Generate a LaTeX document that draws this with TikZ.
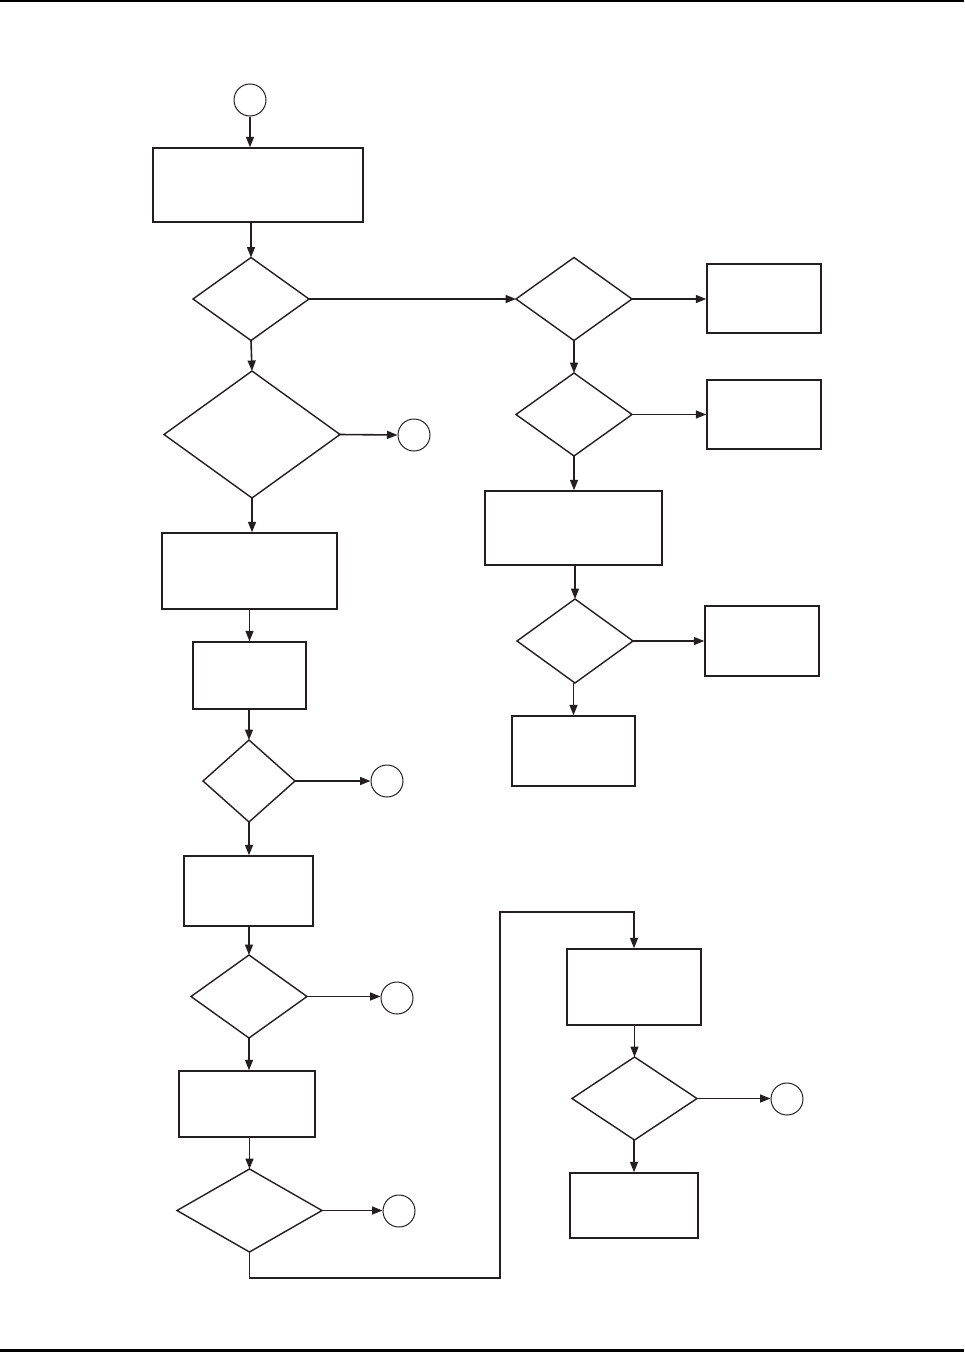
\documentclass[tikz,border=0pt]{standalone}
\usetikzlibrary{positioning,arrows.meta,shapes.geometric}
\definecolor{ink}{RGB}{35,31,32}
\tikzset{
  proc/.style ={draw=ink, line width=1.4pt, rectangle, inner sep=0pt},
  dec/.style  ={draw=ink, line width=1.4pt, diamond, inner sep=0pt, outer sep=0pt},
  conn/.style ={draw=ink, line width=1pt, circle, inner sep=0pt, minimum size=32pt},
  ar/.style   ={-{Triangle[length=10.5pt,width=8pt]}, draw=ink, line width=1.6pt},
  rule/.style ={fill=black},
}

\begin{document}
\begin{tikzpicture}[x=1pt,y=-1pt]
\useasboundingbox (0,0) rectangle (964,1352);
% page rules
\fill[rule] (0,0) rectangle (964,2.3);
\fill[rule] (0,1349.3) rectangle (964,1351.7);

% left column
\node[conn] (start) at (250,100) {};
\node[proc, minimum width=210pt, minimum height=74pt] (init) at (258,185) {};
\node[dec, minimum width=116pt, minimum height=83pt] (decA) at (251,299) {};
\node[dec, minimum width=176pt, minimum height=127pt] (decE) at (252,434.5) {};
\node[conn] (offE) at (414,435) {};
\node[proc, minimum width=175pt, minimum height=76pt] (boxE) at (249.5,571) {};
\node[proc, minimum width=113pt, minimum height=67pt] (boxF) at (249.5,675.5) {};
\node[dec, minimum width=92pt, minimum height=82pt] (decF) at (249,781) {};
\node[conn] (offF) at (387,781) {};
\node[proc, minimum width=129pt, minimum height=70pt] (boxG) at (248.5,891) {};
\node[dec, minimum width=116pt, minimum height=83pt] (decG) at (249,996.5) {};
\node[conn] (offG) at (397,998) {};
\node[proc, minimum width=136pt, minimum height=66pt] (boxH) at (247,1104) {};
\node[dec, minimum width=145pt, minimum height=83pt] (decH) at (249.5,1210.5) {};
\node[conn] (offH) at (399,1211) {};

% right column
\node[dec, minimum width=116pt, minimum height=83pt] (decB) at (574,299) {};
\node[proc, minimum width=114pt, minimum height=69pt] (outB) at (764,298.5) {};
\node[dec, minimum width=116pt, minimum height=83pt] (decC) at (574,414.5) {};
\node[proc, minimum width=114pt, minimum height=69pt] (outC) at (764,414.5) {};
\node[proc, minimum width=177pt, minimum height=74pt] (boxC) at (573.5,528) {};
\node[dec, minimum width=116pt, minimum height=84pt] (decD) at (575,641) {};
\node[proc, minimum width=114pt, minimum height=70pt] (outD) at (762,641) {};
\node[proc, minimum width=123pt, minimum height=70pt] (boxD) at (573.5,751) {};
\node[proc, minimum width=134pt, minimum height=76pt] (boxI) at (634,987) {};
\node[dec, minimum width=125pt, minimum height=83pt] (decI) at (634.5,1098.5) {};
\node[conn] (offI) at (787,1099) {};
\node[proc, minimum width=128pt, minimum height=65pt] (boxJ) at (634,1205.5) {};

\coordinate (lowturn) at (500,1278);
\coordinate (highturn) at (500,912);

% connectors
\draw[ar] (start) -- (start |- init.north);
\draw[ar] (init.south -| decA) -- (decA.north);
\draw[ar] (decA.east) -- (decB.west);
\draw[ar] (decA.south) -- (decE.north);
\draw[ar] (decE.east) -- (offE.west);
\draw[ar] (decE.south) -- (decE.south |- boxE.north);
\draw[ar] (boxE.south) -- (boxE.south |- boxF.north);
\draw[ar] (boxF.south -| decF) -- (decF.north);
\draw[ar] (decF.east) -- (offF.west);
\draw[ar] (decF.south) -- (decF.south |- boxG.north);
\draw[ar] (boxG.south -| decG) -- (decG.north);
\draw[ar] (decG.east) -- (offG.west |- decG.east);
\draw[ar] (decG.south) -- (decG.south |- boxH.north);
\draw[ar] (boxH.south -| decH) -- (decH.north);
\draw[ar] (decH.east) -- (offH.west |- decH.east);
\draw[ar] (decB.east) -- (outB.west |- decB.east);
\draw[ar] (decB.south) -- (decC.north);
\draw[ar] (decC.east) -- (outC.west |- decC.east);
\draw[ar] (decC.south) -- (decC.south |- boxC.north);
\draw[ar] (boxC.south -| decD) -- (decD.north);
\draw[ar] (decD.east) -- (outD.west |- decD.east);
\draw[ar] (decD.south -| boxD) -- (boxD.north);
\draw[ar] (decH.south) |- (lowturn) -- (highturn) -| (boxI.north);
\draw[ar] (boxI.south -| decI) -- (decI.north);
\draw[ar] (decI.east) -- (offI.west |- decI.east);
\draw[ar] (decI.south -| boxJ) -- (boxJ.north);
\end{tikzpicture}
\end{document}
